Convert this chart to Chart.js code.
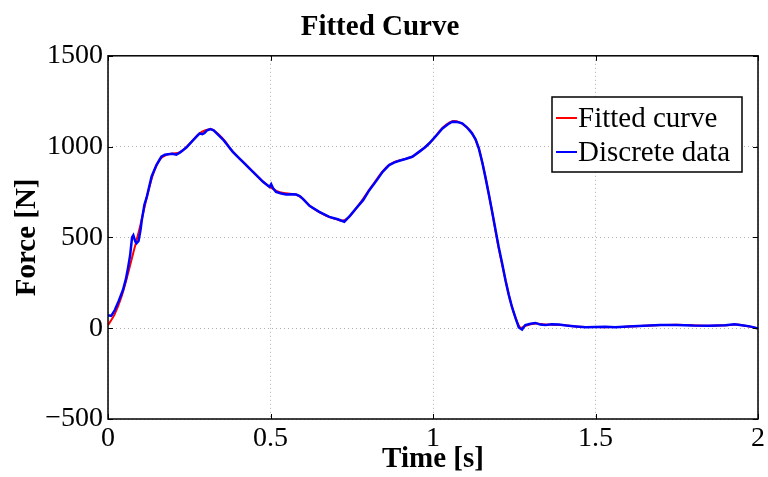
<!DOCTYPE html>
<html>
<head>
<meta charset="utf-8">
<script src="https://cdn.jsdelivr.net/npm/chart.js@4/dist/chart.umd.min.js"></script>
<style>
  body { margin: 0; background: #fff; }
  #wrap { width: 768px; height: 477px; position: relative; }
</style>
</head>
<body>
<div id="wrap"><canvas id="forceChart" role="img" aria-label="Fitted Curve"></canvas></div>
<script>
// discrete measurements (blue)
const dataTime = [0, 0.01, 0.021, 0.033, 0.046, 0.055, 0.062, 0.068, 0.074, 0.078, 0.084, 0.088, 0.094, 0.1, 0.104,
  0.112, 0.119, 0.134, 0.149, 0.164, 0.175, 0.185, 0.198, 0.21, 0.222, 0.241, 0.262, 0.282, 0.29, 0.297, 0.305,
  0.315, 0.325, 0.333, 0.354, 0.384, 0.415, 0.446, 0.477, 0.497, 0.502, 0.508, 0.517, 0.533, 0.548, 0.565, 0.579,
  0.59, 0.599, 0.62, 0.65, 0.681, 0.707, 0.727, 0.745, 0.763, 0.785, 0.804, 0.825, 0.845, 0.865, 0.88, 0.896,
  0.915, 0.936, 0.957, 0.975, 0.988, 1.01, 1.029, 1.045, 1.059, 1.075, 1.09, 1.105, 1.12, 1.131, 1.141, 1.152,
  1.162, 1.172, 1.182, 1.192, 1.202, 1.213, 1.223, 1.233, 1.243, 1.254, 1.264, 1.274, 1.284, 1.3, 1.315, 1.33,
  1.346, 1.365, 1.387, 1.41, 1.44, 1.47, 1.5, 1.53, 1.56, 1.6, 1.65, 1.7, 1.75, 1.8, 1.85, 1.9, 1.928, 1.95,
  1.975, 2.0];
const dataForce = [72, 68, 100, 150, 210, 270, 336, 400, 500, 512, 478, 468, 480, 540, 595,
  680, 720, 834, 898, 944, 955, 958, 960, 955, 968, 995, 1036, 1073, 1068, 1075, 1090,
  1096, 1090, 1076, 1039, 971, 916, 861, 806, 778, 793, 770, 751, 742, 736, 738, 736,
  728, 714, 674, 641, 613, 600, 586, 620, 659, 705, 760, 810, 861, 898, 912, 922,
  932, 944, 971, 995, 1017, 1060, 1100, 1122, 1137, 1135, 1128, 1105, 1073, 1040, 990, 910,
  825, 735, 641, 545, 448, 355, 264, 185, 117, 55, 4, -7, 17, 24, 29, 20,
  17, 22, 20, 15, 10, 5, 7, 8, 5, 10, 14, 17, 18, 15, 14, 16, 22, 16,
  10, -2];

// fitted curve (red)
const fitTime = [0, 0.02, 0.04, 0.06, 0.08, 0.1, 0.12, 0.14, 0.16, 0.18, 0.2, 0.22, 0.24, 0.26, 0.28, 0.3,
  0.32, 0.34, 0.36, 0.38, 0.4, 0.42, 0.44, 0.46, 0.48, 0.5, 0.52, 0.54, 0.56, 0.58, 0.6, 0.62, 0.64, 0.66,
  0.68, 0.7, 0.72, 0.74, 0.76, 0.78, 0.8, 0.82, 0.84, 0.86, 0.88, 0.9, 0.92, 0.94, 0.96, 0.98, 1.0, 1.02,
  1.04, 1.06, 1.08, 1.1, 1.12, 1.14, 1.16, 1.18, 1.2, 1.22, 1.24, 1.26, 1.27, 1.28, 1.3, 1.32, 1.34, 1.36,
  1.4, 1.45, 1.5, 1.55, 1.6, 1.65, 1.7, 1.75, 1.8, 1.85, 1.9, 1.93, 1.96, 2.0];
const fitForce = [17, 75, 165, 290, 430, 570, 725, 855, 930, 955, 962, 968, 995, 1033, 1070, 1090,
  1095, 1068, 1030, 980, 942, 908, 872, 837, 802, 775, 755, 745, 740, 735, 712, 676, 650, 630,
  613, 602, 592, 610, 652, 700, 752, 802, 852, 892, 915, 925, 935, 948, 975, 1005, 1040, 1085,
  1120, 1140, 1135, 1112, 1075, 995, 845, 660, 460, 290, 135, 30, 2, 10, 22, 26, 20, 20,
  17, 8, 6, 6, 9, 13, 17, 19, 16, 14, 16, 20, 14, 0];

const xTicks = [0, 0.5, 1, 1.5, 2];
const yTicks = [-500, 0, 500, 1000, 1500];

const serif = '"Liberation Serif", "Times New Roman", serif';

// MATLAB style box with inward ticks + legend inside the axes
const matlabFrame = {
  id: 'matlabFrame',
  afterDraw(chart) {
    const { ctx, chartArea: a, scales } = chart;
    ctx.save();
    ctx.strokeStyle = '#000';
    ctx.lineWidth = 1.5;
    ctx.setLineDash([]);
    ctx.strokeRect(a.left, a.top, a.right - a.left, a.bottom - a.top);
    ctx.lineWidth = 1;
    const tl = 5;
    ctx.beginPath();
    xTicks.forEach(v => {
      const x = Math.round(scales.x.getPixelForValue(v)) + 0.5;
      ctx.moveTo(x, a.bottom); ctx.lineTo(x, a.bottom - tl);
      ctx.moveTo(x, a.top); ctx.lineTo(x, a.top + tl);
    });
    yTicks.forEach(v => {
      const y = Math.round(scales.y.getPixelForValue(v)) + 0.5;
      ctx.moveTo(a.left, y); ctx.lineTo(a.left + tl, y);
      ctx.moveTo(a.right, y); ctx.lineTo(a.right - tl, y);
    });
    ctx.stroke();

    // legend
    const bx = 552, by = 97, bw = 190, bh = 75;
    ctx.fillStyle = '#fff';
    ctx.fillRect(bx, by, bw, bh);
    ctx.strokeStyle = '#000';
    ctx.lineWidth = 1.5;
    ctx.strokeRect(bx, by, bw, bh);
    ctx.font = '29px ' + serif;
    ctx.textBaseline = 'middle';
    ctx.textAlign = 'left';
    chart.data.datasets.forEach((ds, i) => {
      const y = by + 21 + i * 34;
      ctx.strokeStyle = ds.borderColor;
      ctx.lineWidth = 2;
      ctx.beginPath();
      ctx.moveTo(bx + 4, y); ctx.lineTo(bx + 25, y);
      ctx.stroke();
      ctx.fillStyle = '#000';
      ctx.fillText(ds.label, bx + 26, y + 1);
    });
    ctx.restore();
  }
};

const ctx = document.getElementById('forceChart').getContext('2d');
new Chart(ctx, {
  type: 'line',
  data: {
    datasets: [
      {
        label: 'Fitted curve',
        data: fitTime.map((t, i) => ({ x: t, y: fitForce[i] })),
        borderColor: '#ff0000',
        borderWidth: 2,
        pointRadius: 0,
        tension: 0.3,
        order: 2
      },
      {
        label: 'Discrete data',
        data: dataTime.map((t, i) => ({ x: t, y: dataForce[i] })),
        borderColor: '#0000ff',
        borderWidth: 2.5,
        pointRadius: 0,
        tension: 0,
        order: 1
      }
    ]
  },
  options: {
    responsive: true,
    maintainAspectRatio: false,
    animation: false,
    layout: { padding: { left: 0, right: 8, top: 0, bottom: 0 } },
    scales: {
      x: {
        type: 'linear',
        min: 0,
        max: 2,
        afterBuildTicks: scale => { scale.ticks = xTicks.map(v => ({ value: v })); },
        afterFit: scale => { scale.height = 58; },
        grid: { color: '#b0b0b0', drawTicks: false },
        border: { display: false, dash: [1, 3] },
        ticks: {
          color: '#000',
          padding: 3,
          maxRotation: 0,
          font: { family: serif, size: 28 },
          callback: v => String(v)
        },
        title: {
          display: true,
          text: 'Time [s]',
          color: '#000',
          padding: { top: 0, bottom: 0 },
          font: { family: serif, size: 29, weight: 'bold' }
        }
      },
      y: {
        min: -500,
        max: 1500,
        afterBuildTicks: scale => { scale.ticks = yTicks.map(v => ({ value: v })); },
        afterFit: scale => { scale.width = 108; },
        grid: { color: '#b0b0b0', drawTicks: false },
        border: { display: false, dash: [1, 3] },
        ticks: {
          color: '#000',
          padding: 5,
          font: { family: serif, size: 28 },
          callback: v => String(v).replace('-', '\u2212')
        },
        title: {
          display: true,
          text: 'Force [N]',
          color: '#000',
          padding: { top: 10, bottom: 0 },
          font: { family: serif, size: 29, weight: 'bold' }
        }
      }
    },
    plugins: {
      legend: { display: false },
      tooltip: { enabled: false },
      title: {
        display: true,
        text: 'Fitted Curve',
        color: '#000',
        padding: { top: 10, bottom: 11 },
        font: { family: serif, size: 29, weight: 'bold' }
      }
    }
  },
  plugins: [matlabFrame]
});
</script>
</body>
</html>
